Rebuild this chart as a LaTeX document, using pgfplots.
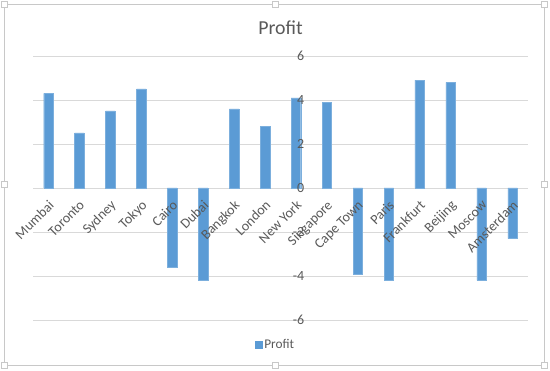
\documentclass[border=0pt]{standalone}
\usepackage{pgfplots}
\pgfplotsset{compat=1.18}
\usepackage{fontspec}
\setmainfont{Carlito}
\definecolor{barblue}{HTML}{5B9BD5}
\definecolor{txtgray}{HTML}{595959}
\definecolor{gridgray}{HTML}{D9D9D9}
\definecolor{bordergray}{HTML}{C8C8C8}
\pgfplotsset{
  commonaxis/.style={
    at={(33pt,51pt)}, anchor=south west,
    scale only axis, width=495pt, height=264pt,
    xmin=-9, xmax=7, ymin=-6, ymax=6,
    axis lines=middle,
    axis line style={draw=none},
    hide obscured x ticks=false, hide obscured y ticks=false,
    ytick={-6,-4,-2,0,2,4,6},
    xtick={-8.5,-7.5,...,6.5},
    major tick length=0pt,
    clip=false,
  },
}
\pgfplotstableread{
x y
-8.5 4.3
-7.5 2.5
-6.5 3.5
-5.5 4.5
-4.5 -3.6
-3.5 -4.2
-2.5 3.6
-1.5 2.8
-0.5 4.1
0.5 3.9
1.5 -3.9
2.5 -4.2
3.5 4.9
4.5 4.8
5.5 -4.2
6.5 -2.3
}\profit
\begin{document}
\begin{tikzpicture}
\path[use as bounding box] (0pt,0pt) rectangle (550pt,371pt);
\draw[bordergray, line width=0.8pt] (4pt,6pt) rectangle (544pt,367pt);
\foreach \px/\py in {4/367,275/367,544/367,4/186.5,544/186.5,4/6,275/6,544/6}{
  \filldraw[draw=bordergray, fill=white, line width=0.6pt] (\px pt-3pt,\py pt-3pt) rectangle (\px pt+3pt,\py pt+3pt);
}
\begin{axis}[
  commonaxis,
  xticklabels={}, yticklabels={},
  ymajorgrids, grid style={gridgray, line width=0.8pt},
  title={Profit},
  title style={txtgray, font=\fontsize{19.8}{22}\selectfont, at={(0.5,1)}, anchor=south, yshift=12pt},
  legend style={at={(0.49,-0.095)}, anchor=center, draw=none, fill=none,
    font=\fontsize{13.3}{15}\selectfont, text=txtgray, inner sep=1pt},
  legend image code/.code={\fill[barblue] (0pt,-3.5pt) rectangle (7pt,3.5pt);},
  legend cell align=left,
]
\addplot[ybar, bar width=9.5pt, fill=barblue, draw=barblue!80!white, line width=0.4pt] table[x=x,y=y] {\profit};
\addlegendentry{Profit}
\end{axis}
\begin{axis}[
  commonaxis,
  xticklabels={Mumbai,Toronto,Sydney,Tokyo,Cairo,Dubai,Bangkok,London,New York,Singapore,Cape Town,Paris,Frankfurt,Beijing,Moscow,Amsterdam},
  /pgf/number format/assume math mode=true,
  tick label style={txtgray, font=\fontsize{14}{16}\selectfont},
  yticklabel style={anchor=east, xshift=-6pt, inner sep=1pt},
  xticklabel style={rotate=45, anchor=north east, inner sep=1pt, xshift=-7.3pt, yshift=-6.5pt},
]
\addplot[draw=none, forget plot] table[x=x,y=y] {\profit};
\end{axis}
\end{tikzpicture}
\end{document}
